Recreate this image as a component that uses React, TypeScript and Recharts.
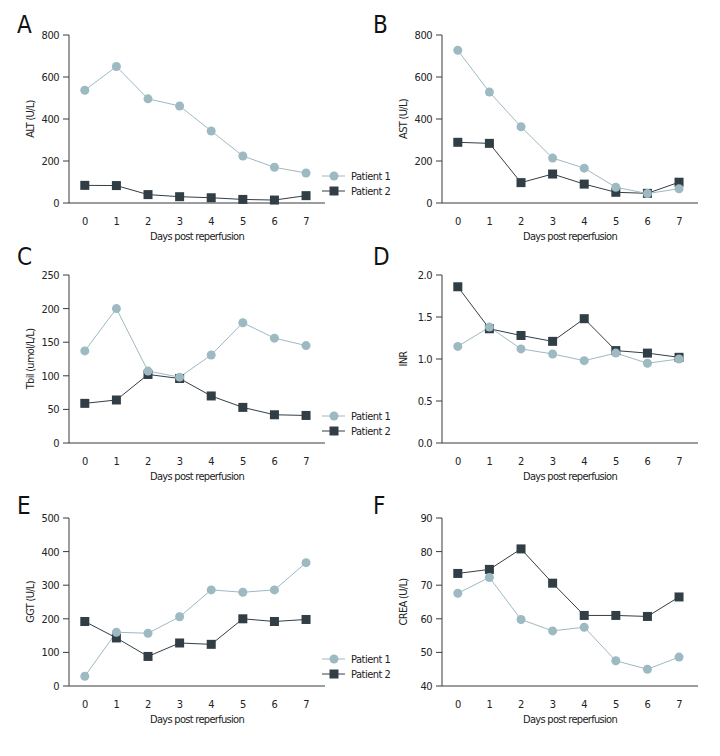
import React from 'react';
import { LineChart, Line, XAxis, YAxis } from 'recharts';

// days after reperfusion
const days = [0, 1, 2, 3, 4, 5, 6, 7];

const altP1 = [537, 650, 496, 462, 343, 224, 170, 143];
const altP2 = [84, 83, 40, 30, 25, 17, 14, 35];
const astP1 = [727, 528, 363, 214, 166, 75, 45, 68];
const astP2 = [289, 284, 97, 138, 90, 51, 46, 99];
const tbilP1 = [137, 200, 107, 98, 131, 179, 156, 145];
const tbilP2 = [59, 64, 102, 96, 70, 53, 42, 41];
const inrP1 = [1.15, 1.38, 1.12, 1.06, 0.98, 1.07, 0.95, 1.0];
const inrP2 = [1.86, 1.36, 1.28, 1.21, 1.48, 1.1, 1.07, 1.02];
const ggtP1 = [29, 160, 157, 206, 286, 279, 286, 367];
const ggtP2 = [192, 143, 88, 128, 124, 200, 192, 198];
const creaP1 = [67.6, 72.3, 59.8, 56.4, 57.5, 47.5, 45.0, 48.6];
const creaP2 = [73.5, 74.7, 80.8, 70.6, 61.0, 61.0, 60.7, 66.5];

const enzymeTicks = [0, 200, 400, 600, 800];
const tbilTicks = [0, 50, 100, 150, 200, 250];
const inrTicks = [0, 0.5, 1, 1.5, 2];
const ggtTicks = [0, 100, 200, 300, 400, 500];
const creaTicks = [40, 50, 60, 70, 80, 90];

const seriesNames = ['Patient 1', 'Patient 2'];

const LIGHT = '#9dbac2';
const DARK = '#323e46';
const AXIS = '#3a3a3a';
const FONT = "'DejaVu Sans Condensed', 'DejaVu Sans', sans-serif";
const STRETCH = 'condensed';

const SquareDot = (props: any) => {
  const { cx, cy, index } = props;
  if (cx == null || cy == null) return <g key={`sq-${index}`} />;
  return <rect key={`sq-${index}`} x={cx - 4.5} y={cy - 4.5} width={9} height={9} fill={DARK} />;
};

interface PanelProps {
  letter: string;
  left: number;
  top: number;
  yLabel: string;
  p1: number[];
  p2: number[];
  yTicks: number[];
  fmt?: (v: number) => string;
  legend?: boolean;
}

function Panel({ letter, left, top, yLabel, p1, p2, yTicks, fmt, legend }: PanelProps) {
  const data = days.map((d, i) => ({ day: d, p1: p1[i], p2: p2[i] }));
  const tickStyle = { fontSize: 11, fill: '#222', fontFamily: FONT, fontStretch: STRETCH, letterSpacing: -0.5 };
  const labelStyle = { fontSize: 11, fill: '#222', fontFamily: FONT, fontStretch: STRETCH, letterSpacing: -0.7 };
  const legendText = { fontStretch: STRETCH, letterSpacing: -0.5 };
  return (
    <div style={{ position: 'absolute', left, top, width: 347, height: 250 }}>
      <LineChart
        width={347}
        height={250}
        data={data}
        margin={{ top: 35, right: 22, bottom: 17, left: 0 }}
      >
        <XAxis
          dataKey="day"
          type="number"
          domain={[-0.5, 7.6]}
          ticks={days}
          interval={0}
          tickLine={false}
          tickSize={0}
          tickMargin={14}
          tick={tickStyle}
          axisLine={{ stroke: AXIS }}
          height={30}
          label={{
            value: 'Days post reperfusion',
            position: 'bottom',
            offset: -1,
            style: labelStyle,
          }}
        />
        <YAxis
          type="number"
          domain={[yTicks[0], yTicks[yTicks.length - 1]]}
          ticks={yTicks}
          interval={0}
          width={69}
          tickSize={6}
          tickMargin={4}
          tick={tickStyle}
          tickFormatter={fmt}
          tickLine={{ stroke: AXIS }}
          axisLine={{ stroke: AXIS }}
          label={{
            value: yLabel,
            angle: -90,
            position: 'insideLeft',
            offset: 30,
            style: { ...labelStyle, textAnchor: 'middle' },
          }}
        />
        <Line
          dataKey="p2"
          name={seriesNames[1]}
          stroke={DARK}
          strokeWidth={1}
          dot={<SquareDot />}
          isAnimationActive={false}
        />
        <Line
          dataKey="p1"
          name={seriesNames[0]}
          stroke={LIGHT}
          strokeWidth={1}
          dot={{ r: 4.5, fill: LIGHT, stroke: LIGHT, strokeWidth: 0 }}
          isAnimationActive={false}
        />
      </LineChart>
      <div
        style={{
          position: 'absolute',
          left: letter === 'A' || letter === 'C' || letter === 'E' ? 17 : 0,
          top: 0,
          fontFamily: FONT,
          fontStretch: STRETCH,
          fontSize: 24,
          lineHeight: '24px',
          color: '#111',
          paddingTop: letter === 'C' || letter === 'D' ? 5 : letter === 'E' || letter === 'F' ? 11 : 13,
        }}
      >
        {letter}
      </div>
      {legend && (
        <svg
          width={110}
          height={32}
          style={{ position: 'absolute', left: 322, top: 168, overflow: 'visible' }}
        >
          <line x1={0} x2={23} y1={8} y2={8} stroke={LIGHT} />
          <circle cx={12} cy={8} r={4.5} fill={LIGHT} />
          <text x={29} y={8} dominantBaseline="central" fontSize={11} fill="#222" fontFamily={FONT} style={legendText}>
            {seriesNames[0]}
          </text>
          <line x1={0} x2={23} y1={23} y2={23} stroke={DARK} />
          <rect x={7.5} y={18.5} width={9} height={9} fill={DARK} />
          <text x={29} y={23} dominantBaseline="central" fontSize={11} fill="#222" fontFamily={FONT} style={legendText}>
            {seriesNames[1]}
          </text>
        </svg>
      )}
    </div>
  );
}

export default function App() {
  return (
    <div
      style={{
        position: 'absolute',
        left: 0,
        top: 0,
        width: 720,
        height: 756,
        background: '#fff',
        overflow: 'hidden',
      }}
    >
      <Panel letter="A" left={0} top={0} yLabel="ALT (U/L)" p1={altP1} p2={altP2} yTicks={enzymeTicks} legend />
      <Panel letter="B" left={373} top={0} yLabel="AST (U/L)" p1={astP1} p2={astP2} yTicks={enzymeTicks} />
      <Panel letter="C" left={0} top={240} yLabel="Tbil (umol/L/L)" p1={tbilP1} p2={tbilP2} yTicks={tbilTicks} legend />
      <Panel
        letter="D"
        left={373}
        top={240}
        yLabel="INR"
        p1={inrP1}
        p2={inrP2}
        yTicks={inrTicks}
        fmt={(v) => v.toFixed(1)}
      />
      <Panel letter="E" left={0} top={483} yLabel="GGT (U/L)" p1={ggtP1} p2={ggtP2} yTicks={ggtTicks} legend />
      <Panel letter="F" left={373} top={483} yLabel="CREA (U/L)" p1={creaP1} p2={creaP2} yTicks={creaTicks} />
    </div>
  );
}
